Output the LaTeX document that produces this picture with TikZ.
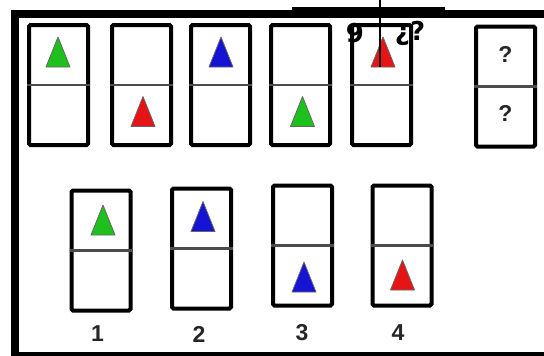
\documentclass[tikz,border=0pt]{standalone}
\usepackage{fontspec}
\setmainfont{Liberation Sans}
\newfontfamily\scribblefont{DejaVu Sans}
\usetikzlibrary{positioning}
\definecolor{TriGreen}{HTML}{1EC01E}
\definecolor{TriBlue}{HTML}{1414D2}
\definecolor{TriRed}{HTML}{E61414}
\definecolor{MarkGrey}{HTML}{262626}

\begin{document}
\begin{tikzpicture}[x=1pt, y=-1pt,
  card/.style={draw, line width=4pt, rounded corners=1.5pt, minimum width=59pt, minimum height=120pt, inner sep=0pt, fill=white},
  divider/.style={draw=black!70, line width=2.4pt},
  tri/.pic={\filldraw[pic actions, draw=black!60, line width=0.8pt, line join=round] (0,-15) -- (12,15) -- (-12,15) -- cycle;},
  numlabel/.style={font=\bfseries\fontsize{23}{23}\selectfont, text=MarkGrey, inner sep=0pt},
  scribble/.style={font=\scribblefont\bfseries\fontsize{26}{26}\selectfont, inner sep=0pt}]
\useasboundingbox (0,0) rectangle (544,356);
\path[clip] (0,0) rectangle (544,356);
\fill[white] (0,0) rectangle (544,356);
% frame
\draw[line width=8pt] (548,13.5) -- (15,13.5) -- (15,356) -- (548,356);
% sequence
\node[card] (s1) at (58.5,85) {};
\node[card] (s2) at (141.5,85) {};
\node[card] (s3) at (220.5,85) {};
\node[card] (s4) at (300.5,85) {};
\node[card] (s5) at (381.5,85) {};
\node[card] (sq) at (505.5,86.5) {};
\foreach \c in {s1,s2,s3,s4,s5,sq} \draw[divider] (\c.west) -- (\c.east);
\pic[fill=TriGreen] at (58,52) {tri};
\pic[fill=TriRed] at (143,111.5) {tri};
\pic[fill=TriBlue] at (221,52) {tri};
\pic[fill=TriGreen] at (302.5,111.5) {tri};
\pic[fill=TriRed] at (383,52) {tri};
\node[numlabel] (qtop) at (505.5,54) {?};
\node[numlabel] (qbot) at (505.5,113) {?};
% answers
\node[card] (a1) at (101,250.5) {};
\node[card] (a2) at (201.5,248.5) {};
\node[card] (a3) at (302.5,245.5) {};
\node[card] (a4) at (402,245.5) {};
\foreach \c in {a1,a2,a3,a4} \draw[divider] (\c.west) -- (\c.east);
\pic[fill=TriGreen] at (103,220) {tri};
\pic[fill=TriBlue] at (203,216.5) {tri};
\pic[fill=TriBlue] at (304,277) {tri};
\pic[fill=TriRed] at (402.5,275) {tri};
\node[numlabel] (n1) at (97.5,334) {1};
\node[numlabel] (n2) at (199,334) {2};
\node[numlabel] (n3) at (302,333) {3};
\node[numlabel] (n4) at (398,333) {4};
% scribbles on top
\draw[line width=3pt] (292,8.5) -- (445,8.5);
\draw[line width=2pt] (380,0) -- (380,67);
\node[scribble] (nine) at (355,33) {9};
\node[scribble] (qq) at (410,33) {¿?};
\end{tikzpicture}
\end{document}
